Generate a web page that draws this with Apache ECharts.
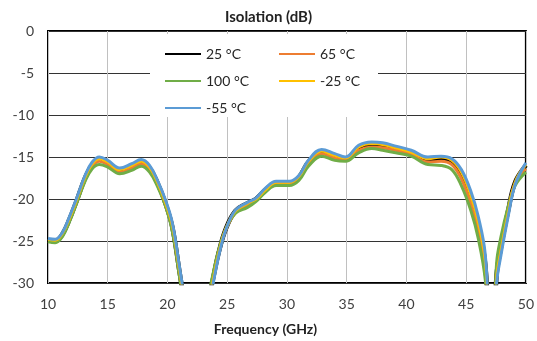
<!DOCTYPE html>
<html lang="en">
<head>
    <meta charset="UTF-8">
    <title>Isolation</title>
    <script src="https://cdn.jsdelivr.net/npm/echarts@6/dist/echarts.min.js"></script>
    <style>
        html, body { margin: 0; padding: 0; background: #fff; }
    </style>
</head>
<body>
    <div id="chart" style="width: 537px; height: 341px;"></div>
</body>
</html>
<script type="text/javascript">
    // frequency points (GHz), shared by all curves
    var freq = [10, 10.6, 11.2, 11.8, 12.4, 13.1, 13.7, 14.3, 15.0, 16.0,
        17.0, 17.8, 18.5, 19.2, 19.8, 20.4, 21.0, 21.5, 22.4, 23.3,
        23.8, 24.3, 24.9, 25.7, 26.7, 27.4, 28.2, 29.1, 30.2, 31.0,
        31.8, 32.9, 34.0, 34.9, 36.0, 37.1, 38.0, 39.1, 40.4, 41.8,
        42.9, 43.8, 44.6, 45.4, 46.0, 46.6, 47.15, 47.55, 47.9, 48.5,
        49.1, 50.0];

    // isolation (dB) per temperature
    var t25 = [-24.9, -25.0, -24.2, -22.4, -20.2, -17.5, -15.9, -15.3, -15.7, -16.6,
        -16.1, -15.6, -16.3, -18.2, -20.4, -23.3, -28.6, -33, -40, -33,
        -29.6, -26.3, -23.5, -21.4, -20.5, -20.0, -18.9, -18.1, -18.1, -17.4,
        -15.6, -14.4, -14.9, -15.2, -13.9, -13.5, -13.6, -14.0, -14.5, -15.4,
        -15.2, -15.6, -17.1, -20.0, -23.1, -27.8, -40, -29.0, -25.9, -21.5,
        -18.0, -16.0];
    var t65 = [-25.0, -25.1, -24.3, -22.5, -20.4, -17.7, -16.1, -15.5, -15.9, -16.8,
        -16.3, -15.8, -16.5, -18.4, -20.6, -23.6, -28.9, -33.5, -40, -32.8,
        -29.4, -26.2, -23.6, -21.6, -20.7, -20.1, -19.0, -18.2, -18.2, -17.5,
        -15.8, -14.6, -15.1, -15.4, -14.2, -13.8, -13.9, -14.2, -14.7, -15.6,
        -15.5, -15.9, -17.6, -20.6, -23.8, -28.6, -40, -28.5, -25.3, -21.2,
        -18.2, -16.4];
    var t100 = [-25.1, -25.2, -24.5, -22.7, -20.5, -17.9, -16.4, -15.9, -16.2, -17.0,
        -16.6, -16.1, -16.8, -18.6, -20.7, -23.8, -29.2, -34, -40, -32.5,
        -29.0, -26.0, -23.5, -21.7, -21.0, -20.3, -19.2, -18.4, -18.4, -17.8,
        -16.1, -14.9, -15.4, -15.5, -14.5, -14.0, -14.2, -14.5, -14.9, -15.9,
        -16.0, -16.5, -18.4, -21.4, -24.6, -29.6, -40, -27.6, -24.6, -21.0,
        -18.4, -16.8];
    var tm25 = [-24.8, -24.9, -24.1, -22.3, -20.1, -17.4, -15.8, -15.2, -15.6, -16.5,
        -16.0, -15.5, -16.2, -18.1, -20.3, -23.1, -28.4, -32.8, -40, -33.2,
        -29.8, -26.4, -23.5, -21.4, -20.5, -20.0, -18.9, -18.0, -18.0, -17.3,
        -15.5, -14.3, -14.8, -15.1, -13.8, -13.4, -13.5, -13.9, -14.4, -15.2,
        -15.0, -15.4, -16.8, -19.6, -22.6, -27.3, -40, -29.4, -26.3, -21.8,
        -18.0, -15.9];
    var tm55 = [-24.7, -24.8, -24.0, -22.1, -19.9, -17.2, -15.6, -15.0, -15.4, -16.3,
        -15.8, -15.3, -16.0, -17.9, -20.0, -22.8, -28.0, -32.5, -40, -33.5,
        -30.2, -26.7, -23.6, -21.3, -20.4, -19.9, -18.7, -17.9, -17.9, -17.2,
        -15.4, -14.1, -14.6, -15.0, -13.6, -13.2, -13.3, -13.7, -14.2, -15.0,
        -14.9, -15.2, -16.5, -19.1, -22.0, -26.6, -40, -30.0, -26.8, -22.2,
        -18.3, -15.7];

    var names = ['25 °C', '65 °C', '100 °C', '-25 °C', '-55 °C'];
    var values = [t25, t65, t100, tm25, tm55];
    var colors = ['#000000', '#ED7D31', '#70AD47', '#FFC000', '#5B9BD5'];
    var widths = [4.5, 3, 3, 3, 3];

    var font = 'Lato';

    function pairs(v) {
        var out = [];
        for (var i = 0; i < freq.length; i++) {
            out.push([freq[i], v[i]]);
        }
        return out;
    }

    var series = [];
    for (var k = 0; k < names.length; k++) {
        series.push({
            name: names[k],
            type: 'line',
            data: pairs(values[k]),
            smooth: 0.4,
            symbol: 'none',
            clip: true,
            color: colors[k],
            lineStyle: { color: colors[k], width: widths[k] }
        });
    }

    var legendCommon = {
        orient: 'vertical',
        top: 45,
        padding: 0,
        itemWidth: 36,
        itemHeight: 16,
        itemGap: 9,
        itemStyle: { opacity: 0 },
        textStyle: { fontFamily: font, fontSize: 14, color: '#262626', lineHeight: 18 }
    };

    var myChart = echarts.init(document.getElementById('chart'));
    var option = {
        animation: false,
        title: {
            text: 'Isolation (dB)',
            left: 'center',
            top: 10,
            padding: [0, 11, 0, 0],
            textStyle: { fontFamily: font, fontSize: 15, fontWeight: 'bold', color: '#222' }
        },
        legend: [
            Object.assign({ left: 164, data: ['25 °C', '100 °C', '-55 °C'] }, legendCommon),
            Object.assign({ left: 278, data: ['65 °C', '-25 °C'] }, legendCommon)
        ],
        graphic: [{
            type: 'rect',
            z: 1,
            shape: { x: 150, y: 34, width: 228, height: 83 },
            style: { fill: '#fff' }
        }],
        grid: {
            left: 48,
            right: 9,
            top: 31,
            bottom: 56,
            show: true,
            borderColor: '#000',
            borderWidth: 2
        },
        xAxis: {
            type: 'value',
            min: 10,
            max: 50,
            interval: 5,
            name: 'Frequency (GHz)',
            nameLocation: 'middle',
            nameGap: 39,
            nameTextStyle: { fontFamily: font, fontSize: 14, fontWeight: 'bold', color: '#222', padding: [0, 43, 0, 0] },
            axisLine: { show: false },
            axisTick: { show: false },
            axisLabel: { fontFamily: font, fontSize: 14, color: '#404040', margin: 14 },
            splitLine: { show: true, lineStyle: { color: '#c0c0c0', width: 1 } }
        },
        yAxis: {
            type: 'value',
            min: -30,
            max: 0,
            interval: 5,
            axisLine: { show: false },
            axisTick: { show: false },
            axisLabel: { fontFamily: font, fontSize: 14, color: '#404040', margin: 14 },
            splitLine: { show: true, lineStyle: { color: '#333', width: 1 } }
        },
        series: series
    };
    myChart.setOption(option);
</script>
